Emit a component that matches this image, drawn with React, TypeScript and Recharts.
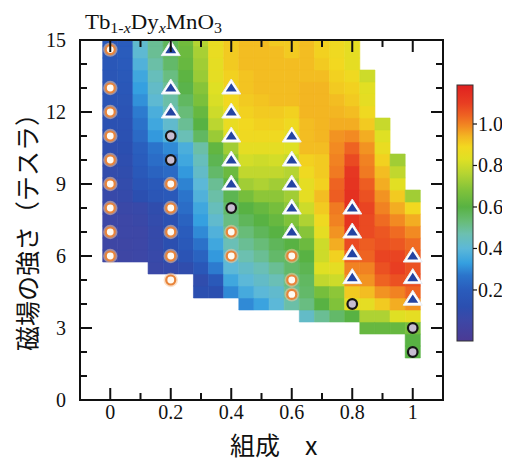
import React from 'react';
import { ComposedChart, XAxis, YAxis, Scatter, ReferenceArea } from 'recharts';

// axis ticks
const xTicks = [0, 0.1, 0.2, 0.3, 0.4, 0.5, 0.6, 0.7, 0.8, 0.9, 1];
const yTicks = [0, 1, 2, 3, 4, 5, 6, 7, 8, 9, 10, 11, 12, 13, 14, 15];
const colorbarTicks = [0.2, 0.4, 0.6, 0.8, 1.0];
const xDomain = [-0.1, 1.1];
const yDomain = [0, 15];

// heat map: one column per composition x, values listed from the lowest field upward (0.5 T steps)
const heatX = [0, 0.05, 0.1, 0.15, 0.2, 0.25, 0.3, 0.35, 0.4, 0.45, 0.5, 0.55, 0.6, 0.65, 0.7, 0.75, 0.8, 0.85, 0.9, 0.95, 1];
const heatBottom = [6, 6, 6, 5.5, 5.5, 5.5, 4.5, 4.5, 4.5, 4, 4, 4, 4, 3.5, 3.5, 3.5, 3.5, 3, 3, 3, 2];

const h000 = [0.04, 0.04, 0.05, 0.05, 0.06, 0.07, 0.08, 0.09, 0.1, 0.11, 0.12, 0.13, 0.14, 0.15, 0.15, 0.16, 0.17, 0.17, 0.18];
const h005 = [0.04, 0.04, 0.05, 0.05, 0.06, 0.08, 0.09, 0.1, 0.11, 0.12, 0.13, 0.14, 0.15, 0.16, 0.17, 0.18, 0.19, 0.2, 0.2];
const h010 = [0.05, 0.05, 0.05, 0.06, 0.07, 0.12, 0.15, 0.18, 0.2, 0.21, 0.24, 0.26, 0.28, 0.31, 0.33, 0.35, 0.38, 0.41, 0.42];
const h015 = [0.06, 0.07, 0.08, 0.08, 0.09, 0.1, 0.16, 0.18, 0.22, 0.25, 0.27, 0.32, 0.35, 0.37, 0.41, 0.43, 0.45, 0.48, 0.5, 0.5];
const h020 = [0.08, 0.12, 0.12, 0.13, 0.13, 0.14, 0.18, 0.2, 0.24, 0.27, 0.3, 0.38, 0.42, 0.45, 0.48, 0.5, 0.52, 0.55, 0.56, 0.57];
const h025 = [0.1, 0.15, 0.18, 0.2, 0.22, 0.25, 0.27, 0.29, 0.32, 0.35, 0.37, 0.46, 0.5, 0.53, 0.56, 0.59, 0.61, 0.63, 0.64, 0.65];
const h030 = [0.12, 0.1, 0.17, 0.22, 0.26, 0.3, 0.33, 0.35, 0.38, 0.4, 0.43, 0.45, 0.48, 0.56, 0.6, 0.63, 0.67, 0.69, 0.72, 0.73, 0.74, 0.76];
const h035 = [0.12, 0.18, 0.28, 0.32, 0.35, 0.38, 0.42, 0.45, 0.48, 0.5, 0.55, 0.58, 0.62, 0.72, 0.77, 0.8, 0.82, 0.83, 0.85, 0.85, 0.86, 0.86];
const h040 = [0.3, 0.35, 0.4, 0.42, 0.46, 0.5, 0.52, 0.55, 0.58, 0.6, 0.64, 0.68, 0.73, 0.83, 0.86, 0.87, 0.89, 0.9, 0.9, 0.91, 0.91, 0.91];
const h045 = [0.3, 0.36, 0.4, 0.43, 0.47, 0.5, 0.53, 0.57, 0.6, 0.66, 0.73, 0.78, 0.81, 0.85, 0.88, 0.89, 0.9, 0.91, 0.92, 0.92, 0.93, 0.93, 0.93];
const h050 = [0.34, 0.4, 0.43, 0.46, 0.5, 0.53, 0.57, 0.6, 0.63, 0.7, 0.75, 0.78, 0.8, 0.85, 0.88, 0.9, 0.91, 0.92, 0.93, 0.93, 0.93, 0.93, 0.93];
const h055 = [0.4, 0.42, 0.46, 0.5, 0.55, 0.57, 0.6, 0.63, 0.66, 0.7, 0.73, 0.78, 0.81, 0.85, 0.88, 0.9, 0.91, 0.93, 0.93, 0.93, 0.93, 0.93, 0.91];
const h060 = [0.48, 0.5, 0.52, 0.55, 0.56, 0.6, 0.63, 0.68, 0.7, 0.73, 0.73, 0.76, 0.79, 0.83, 0.85, 0.88, 0.9, 0.93, 0.93, 0.93, 0.93, 0.91, 0.91];
const h065 = [0.43, 0.52, 0.55, 0.56, 0.58, 0.6, 0.64, 0.69, 0.75, 0.8, 0.85, 0.85, 0.88, 0.9, 0.93, 0.93, 0.93, 0.94, 0.94, 0.94, 0.93, 0.93, 0.93, 0.93];
const h070 = [0.5, 0.6, 0.66, 0.78, 0.83, 0.8, 0.8, 0.85, 0.88, 0.91, 0.93, 0.9, 0.91, 0.91, 0.93, 0.94, 0.94, 0.94, 0.94, 0.94, 0.93, 0.91, 0.9, 0.9];
const h075 = [0.55, 0.68, 0.7, 0.8, 0.85, 0.9, 0.95, 0.98, 1.0, 1.01, 1.05, 1.04, 1.01, 1.0, 0.99, 0.98, 0.95, 0.94, 0.93, 0.91, 0.9, 0.89, 0.88, 0.88];
const h080 = [0.6, 0.85, 0.91, 0.98, 1.0, 1.04, 1.08, 1.12, 1.13, 1.14, 1.14, 1.13, 1.12, 1.08, 1.04, 0.99, 0.95, 0.93, 0.91, 0.9, 0.88, 0.85, 0.85, 0.85];
const h085 = [0.63, 0.75, 0.85, 0.93, 0.98, 1.0, 1.04, 1.05, 1.08, 1.08, 1.09, 1.07, 1.05, 1.01, 1.0, 0.98, 0.95, 0.91, 0.88, 0.85, 0.84, 0.8];
const h090 = [0.63, 0.75, 0.91, 0.98, 1.04, 1.07, 1.09, 1.07, 1.06, 1.03, 1.0, 0.98, 0.95, 0.93, 0.9, 0.86, 0.83, 0.79];
const h095 = [0.63, 0.83, 0.95, 1.0, 1.07, 1.1, 1.09, 1.06, 1.03, 0.99, 0.95, 0.91, 0.84, 0.78, 0.73];
const h100 = [0.6, 0.6, 0.66, 0.85, 0.98, 1.04, 1.07, 1.07, 1.05, 1.03, 0.99, 0.95, 0.89, 0.73];

const heatColumns = [h000, h005, h010, h015, h020, h025, h030, h035, h040, h045, h050,
  h055, h060, h065, h070, h075, h080, h085, h090, h095, h100];

// measured points
const openCircles = [
  { x: 0, y: 14.6 }, { x: 0, y: 13 }, { x: 0, y: 12 }, { x: 0, y: 11 }, { x: 0, y: 10 },
  { x: 0, y: 9 }, { x: 0, y: 8 }, { x: 0, y: 7 }, { x: 0, y: 6 },
  { x: 0.2, y: 9 }, { x: 0.2, y: 8 }, { x: 0.2, y: 7 }, { x: 0.2, y: 6 }, { x: 0.2, y: 5 },
  { x: 0.4, y: 7 }, { x: 0.4, y: 6 },
  { x: 0.6, y: 6 }, { x: 0.6, y: 5 }, { x: 0.6, y: 4.4 },
];
const greyCircles = [
  { x: 0.2, y: 11 }, { x: 0.2, y: 10 }, { x: 0.4, y: 8 }, { x: 0.8, y: 4 }, { x: 1, y: 3 }, { x: 1, y: 2 },
];
const triangles = [
  { x: 0.2, y: 14.6 }, { x: 0.2, y: 13 }, { x: 0.2, y: 12 },
  { x: 0.4, y: 13 }, { x: 0.4, y: 12 }, { x: 0.4, y: 11 }, { x: 0.4, y: 10 }, { x: 0.4, y: 9 },
  { x: 0.6, y: 11 }, { x: 0.6, y: 10 }, { x: 0.6, y: 9 }, { x: 0.6, y: 8 }, { x: 0.6, y: 7 },
  { x: 0.8, y: 8 }, { x: 0.8, y: 7 }, { x: 0.8, y: 6.1 }, { x: 0.8, y: 5.1 },
  { x: 1, y: 6 }, { x: 1, y: 5.1 }, { x: 1, y: 4.2 },
];

// colour map (jet-like, as in the colour bar)
const cmapStops = [-0.05, 0.05, 0.12, 0.2, 0.27, 0.33, 0.4, 0.47, 0.53, 0.6, 0.68, 0.76, 0.83, 0.89, 0.94, 0.99, 1.04, 1.1, 1.19];
const cmapColors = ['#4b3a94', '#3d47a6', '#2b4fb0', '#2a5cbc', '#2b74cb', '#35a0e0', '#5cb8d8', '#6cc0b0', '#68bc78',
  '#58b243', '#80c23a', '#b5d432', '#dfe024', '#f2d820', '#f3b622', '#f28a22', '#ee6322', '#e83e22', '#e02020'];

const hexToRgb = (h) => [1, 3, 5].map(i => parseInt(h.slice(i, i + 2), 16));
const colorAt = (v) => {
  if (v <= cmapStops[0]) return cmapColors[0];
  for (let i = 1; i < cmapStops.length; i++) {
    if (v <= cmapStops[i]) {
      const t = (v - cmapStops[i - 1]) / (cmapStops[i] - cmapStops[i - 1]);
      const a = hexToRgb(cmapColors[i - 1]);
      const b = hexToRgb(cmapColors[i]);
      const c = a.map((av, k) => Math.round(av + (b[k] - av) * t));
      return `rgb(${c[0]},${c[1]},${c[2]})`;
    }
  }
  return cmapColors[cmapColors.length - 1];
};

const SERIF = "'Liberation Serif', 'DejaVu Serif', serif";
const CJK = "'Noto Sans CJK JP', 'Noto Sans', sans-serif";
const INK = '#111111';

// chart box
const W = 502;
const H = 455;
const M = { top: 32, right: 67, bottom: 33, left: 32 };
const Y_AXIS_W = 40;
const X_AXIS_H = 30;
const PLOT_L = M.left + Y_AXIS_W;
const PLOT_R = W - M.right;
const PLOT_T = M.top;
const PLOT_B = H - M.bottom - X_AXIS_H;

const fmtX = (v) => (v === 0 ? '0' : v === 1 ? '1' : v.toFixed(1));
const isMajorX = (v) => Math.round(v * 10) % 2 === 0;
const isMajorY = (v) => v % 3 === 0;

const BottomTick = ({ x, y, payload }) => {
  const v = payload.value;
  const major = isMajorX(v);
  return (
    <g>
      <line x1={x} x2={x} y1={y} y2={y - (major ? 12 : 7)} stroke={INK} strokeWidth={2} />
      {major && (
        <text x={x} y={y + 19} textAnchor="middle" fontFamily={SERIF} fontSize={20} fill={INK}>{fmtX(v)}</text>
      )}
    </g>
  );
};
const LeftTick = ({ x, y, payload }) => {
  const v = payload.value;
  const major = isMajorY(v);
  return (
    <g>
      <line x1={x} x2={x + (major ? 12 : 7)} y1={y} y2={y} stroke={INK} strokeWidth={2} />
      {major && (
        <text x={x - 14} y={y + 7} textAnchor="end" fontFamily={SERIF} fontSize={20} fill={INK}>{v}</text>
      )}
    </g>
  );
};

// top / right edges of the box (mirror of the bottom and left axes)
const frameX = (v) => PLOT_L + ((v - xDomain[0]) / (xDomain[1] - xDomain[0])) * (PLOT_R - PLOT_L);
const frameY = (v) => PLOT_B - ((v - yDomain[0]) / (yDomain[1] - yDomain[0])) * (PLOT_B - PLOT_T);
const topTickPath = xTicks.map(v => `M${frameX(v)} ${PLOT_T}V${PLOT_T + (isMajorX(v) ? 12 : 7)}`).join('');
const rightTickPath = yTicks.map(v => `M${PLOT_R} ${frameY(v)}H${PLOT_R - (isMajorY(v) ? 12 : 7)}`).join('');

const OpenCircle = ({ cx, cy }) => (
  <g>
    <circle cx={cx} cy={cy} r={7.2} fill="#f7c79a" fillOpacity={0.55} />
    <circle cx={cx} cy={cy} r={5.6} fill="#e8843a" />
    <circle cx={cx} cy={cy} r={3.4} fill="#fffaf2" />
  </g>
);
const GreyCircle = ({ cx, cy }) => (
  <circle cx={cx} cy={cy} r={4.8} fill="#c7bdd2" stroke="#161616" strokeWidth={2.2} />
);
const Triangle = ({ cx, cy }) => (
  <g>
    <polygon points={`${cx},${cy - 9} ${cx - 9.5},${cy + 6} ${cx + 9.5},${cy + 6}`} fill="#ffffff" stroke="#e8eef6" strokeWidth={1} />
    <polygon points={`${cx},${cy - 4.8} ${cx - 5.5},${cy + 3.6} ${cx + 5.5},${cy + 3.6}`} fill="#2444a2" />
  </g>
);

// colour bar geometry
const CB_X = 449;
const CB_W = 16;
const CB_TOP = 77;
const CB_BOTTOM = 333;
const CB_VMAX = 1.188;
const CB_VMIN = -0.046;
const cbY = (v) => CB_TOP + ((CB_VMAX - v) / (CB_VMAX - CB_VMIN)) * (CB_BOTTOM - CB_TOP);

export default function App() {
  const cells = heatColumns.flatMap((col, i) =>
    col.map((v, j) => {
      const yc = heatBottom[i] + j * 0.5;
      return {
        key: `${i}-${j}`,
        x1: heatX[i] - 0.025,
        x2: heatX[i] + 0.025,
        y1: yc - 0.25,
        y2: Math.min(yc + 0.25, yDomain[1]),
        fill: colorAt(v),
      };
    })
  );

  return (
    <div style={{ position: 'relative', width: W, height: H }}>
      <ComposedChart width={W} height={H} margin={M}>
        {cells.map(c => (
          <ReferenceArea key={c.key} x1={c.x1} x2={c.x2} y1={c.y1} y2={c.y2}
            fill={c.fill} fillOpacity={1} stroke={c.fill} strokeWidth={0.6} ifOverflow="visible" />
        ))}
        <XAxis type="number" dataKey="x" domain={xDomain} ticks={xTicks} interval={0} height={X_AXIS_H}
          allowDataOverflow tickSize={0} tickMargin={0} tickLine={false} tick={<BottomTick />}
          axisLine={{ stroke: INK, strokeWidth: 2 }} />
        <YAxis type="number" dataKey="y" domain={yDomain} ticks={yTicks} interval={0} width={Y_AXIS_W}
          allowDataOverflow tickSize={0} tickMargin={0} tickLine={false} tick={<LeftTick />}
          axisLine={{ stroke: INK, strokeWidth: 2 }} />
        <Scatter data={openCircles} shape={<OpenCircle />} isAnimationActive={false} />
        <Scatter data={greyCircles} shape={<GreyCircle />} isAnimationActive={false} />
        <Scatter data={triangles} shape={<Triangle />} isAnimationActive={false} />
      </ComposedChart>

      <svg width={W} height={H} viewBox={`0 0 ${W} ${H}`}
        style={{ position: 'absolute', left: 0, top: 0, overflow: 'visible', pointerEvents: 'none', zIndex: 2 }}>
        <defs>
          <linearGradient id="cbar" x1="0" y1="0" x2="0" y2="1">
            {cmapStops.map((s, i) => (
              <stop key={i} offset={(CB_VMAX - s) / (CB_VMAX - CB_VMIN)} stopColor={cmapColors[i]} />
            )).reverse()}
          </linearGradient>
        </defs>

        {/* box edges with inward ticks */}
        <rect x={PLOT_L} y={PLOT_T} width={PLOT_R - PLOT_L} height={PLOT_B - PLOT_T}
          fill="none" stroke={INK} strokeWidth={2} />
        <path d={topTickPath + rightTickPath} fill="none" stroke={INK} strokeWidth={2} />

        {/* title */}
        <text x={77} y={21} fontFamily={SERIF} fontSize={20} fill={INK} textLength={137} lengthAdjust="spacingAndGlyphs">
          Tb<tspan fontSize={14} dy={4}>1-</tspan><tspan fontSize={14} fontStyle="italic">x</tspan>
          <tspan dy={-4}>Dy</tspan><tspan fontSize={14} dy={4} fontStyle="italic">x</tspan>
          <tspan dy={-4}>MnO</tspan><tspan fontSize={14} dy={4}>3</tspan>
        </text>

        {/* axis titles */}
        <text transform="rotate(-90)" x={-218} y={29} textAnchor="middle" fontFamily={CJK} fontSize={25} fill={INK}>
          磁場の強さ（テスラ）
        </text>
        <text x={222} y={447} fontFamily={CJK} fontSize={25} fill={INK}>組成　x</text>

        {/* colour bar */}
        <rect x={CB_X} y={CB_TOP} width={CB_W} height={CB_BOTTOM - CB_TOP} fill="url(#cbar)" stroke="#333" strokeWidth={1} />
        {colorbarTicks.map(v => (
          <g key={v}>
            <line x1={CB_X + CB_W} x2={CB_X + CB_W + 4} y1={cbY(v)} y2={cbY(v)} stroke={INK} strokeWidth={1.2} />
            <text x={CB_X + CB_W + 5} y={cbY(v) + 7} fontFamily={SERIF} fontSize={20} fill={INK}>{v.toFixed(1)}</text>
          </g>
        ))}
      </svg>
    </div>
  );
}
